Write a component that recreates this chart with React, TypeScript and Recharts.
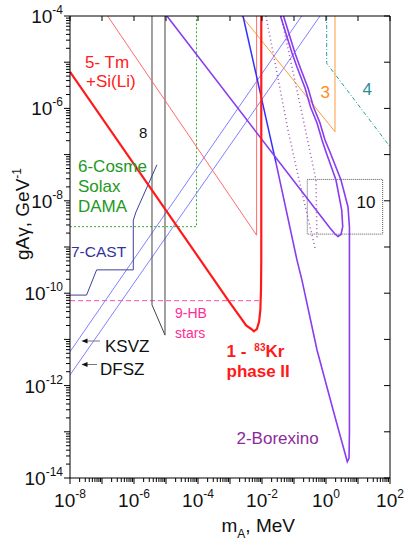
import React from 'react';
import { ComposedChart, Line, XAxis, YAxis } from 'recharts';

type P = { m: number; g: number };

// ---- data (m in MeV, g in GeV^-1) ----
const kr83: P[] = [
  { m: 1e-8, g: 6.2e-6 }, { m: 1e-3, g: 6.2e-11 }, { m: 3.2e-3, g: 2.0e-11 },
  { m: 4.6e-3, g: 1.68e-11 }, { m: 5.6e-3, g: 1.5e-11 }, { m: 6.9e-3, g: 1.68e-11 },
  { m: 8.1e-3, g: 2.4e-11 }, { m: 8.9e-3, g: 4.4e-11 }, { m: 9.3e-3, g: 1.2e-10 },
  { m: 9.5e-3, g: 5e-10 }, { m: 9.5e-3, g: 1e-4 },
];
const tmSiLi: P[] = [{ m: 1.5e-7, g: 1e-4 }, { m: 6.8e-3, g: 1.8e-9 }, { m: 6.8e-3, g: 1e-4 }];
const borexinoBlue: P[] = [{ m: 2.55e-3, g: 1e-4 }, { m: 2.74e-2, g: 6.6e-8 }];
const borexinoOuter: P[] = [
  { m: 2.74e-2, g: 6.6e-8 }, { m: 0.124, g: 5.2e-10 }, { m: 0.178, g: 1.9e-10 },
  { m: 0.524, g: 5.9e-12 }, { m: 1.66, g: 3.0e-13 }, { m: 4.06, g: 3.15e-14 },
  { m: 4.63, g: 2.25e-14 }, { m: 5.25, g: 2.7e-14 }, { m: 5.4, g: 1.0e-13 },
  { m: 5.4, g: 2.7e-9 }, { m: 4.87, g: 7.35e-9 }, { m: 2.94, g: 2.82e-8 },
  { m: 1.33, g: 1.14e-7 }, { m: 0.93, g: 2.07e-7 }, { m: 0.649, g: 4.83e-7 },
  { m: 0.407, g: 1.07e-6 }, { m: 0.274, g: 2.77e-6 }, { m: 0.154, g: 7.87e-6 },
  { m: 0.107, g: 1.58e-5 }, { m: 0.047, g: 1e-4 },
];
const borexinoInner: P[] = [
  { m: 1.07e-5, g: 1e-4 }, { m: 1.33, g: 2.58e-9 }, { m: 1.91, g: 1.91e-9 },
  { m: 2.37, g: 1.69e-9 }, { m: 2.94, g: 1.87e-9 }, { m: 3.33, g: 2.75e-9 },
  { m: 3.1, g: 6.3e-9 }, { m: 2.05, g: 2.82e-8 }, { m: 1.0, g: 1.14e-7 },
  { m: 0.75, g: 2.07e-7 }, { m: 0.524, g: 4.83e-7 }, { m: 0.328, g: 1.07e-6 },
  { m: 0.221, g: 2.77e-6 }, { m: 0.124, g: 7.87e-6 }, { m: 0.0866, g: 1.58e-5 },
  { m: 0.0378, g: 1e-4 },
];
const ksvz: P[] = [{ m: 1e-8, g: 5.4e-12 }, { m: 0.174, g: 1e-4 }];
const dfsz: P[] = [{ m: 1e-8, g: 1.7e-12 }, { m: 0.65, g: 1e-4 }];
const cast: P[] = [
  { m: 1e-8, g: 9.1e-11 }, { m: 3.3e-8, g: 9.1e-11 }, { m: 6.8e-8, g: 3.2e-10 },
  { m: 9.5e-7, g: 3.2e-10 }, { m: 9.5e-7, g: 3.8e-9 }, { m: 1.15e-6, g: 5.7e-9 },
  { m: 5.2e-6, g: 6.0e-8 },
];
const exp8: P[] = [{ m: 3.65e-6, g: 1e-4 }, { m: 3.65e-6, g: 5.6e-11 }, { m: 9.3e-6, g: 1.24e-11 }, { m: 9.3e-6, g: 1e-4 }];
const cosme: P[] = [{ m: 1e-8, g: 2.75e-9 }, { m: 9e-5, g: 2.75e-9 }, { m: 9e-5, g: 1e-4 }];
const hbStars: P[] = [{ m: 1e-8, g: 6.9e-11 }, { m: 9.5e-3, g: 6.9e-11 }];
const exp3: P[] = [{ m: 2.32e-3, g: 1e-4 }, { m: 1.91, g: 3.13e-7 }, { m: 1.91, g: 1e-4 }];
const exp4: P[] = [{ m: 1.05, g: 1e-4 }, { m: 1.05, g: 9.5e-6 }, { m: 100, g: 1.48e-7 }];
const dottedA: P[] = [{ m: 0.0133, g: 1e-4 }, { m: 0.065, g: 3.4e-7 }, { m: 0.133, g: 3.6e-8 }, { m: 0.453, g: 9.5e-10 }];
const dottedB: P[] = [{ m: 0.0393, g: 1e-4 }, { m: 0.229, g: 3.4e-7 }, { m: 0.487, g: 2.8e-8 }, { m: 0.524, g: 1.42e-9 }];
const box10: P[] = [{ m: 0.26, g: 2.9e-8 }, { m: 59, g: 2.9e-8 }, { m: 59, g: 1.9e-9 }, { m: 0.26, g: 1.9e-9 }, { m: 0.26, g: 2.9e-8 }];

const xDecades = [-8, -7, -6, -5, -4, -3, -2, -1, 0, 1, 2];
const yDecades = [-14, -13, -12, -11, -10, -9, -8, -7, -6, -5, -4];

const withMinors = (decs: number[]) => {
  const out: number[] = [];
  decs.forEach((d, i) => {
    for (let k = 1; k <= 9; k++) {
      if (i === decs.length - 1 && k > 1) break;
      out.push(k * Math.pow(10, d));
    }
  });
  return out;
};
const xTicks = withMinors(xDecades);
const yTicks = withMinors(yDecades);
const xMajor = xDecades.map((d) => Math.pow(10, d));
const yMajor = yDecades.map((d) => Math.pow(10, d));

const FONT = "'Liberation Sans', Arial, sans-serif";

const expOf = (v: number) => Math.round(Math.log10(v));
const isMajor = (v: number) => {
  const l = Math.log10(v);
  return Math.abs(l - Math.round(l)) < 1e-6;
};

function LeftTick(props: any) {
  const { x, y, payload } = props;
  const v = payload.value;
  const major = isMajor(v);
  const e = expOf(v);
  return (
    <g>
      <line x1={x - (major ? 6 : 4)} y1={y} x2={x} y2={y} stroke="#000" strokeWidth={1} />
      {major && e % 2 === 0 ? (
        <text x={x - 7} y={y + 7} textAnchor="end" fontFamily={FONT} fontSize={19} fill="#111">
          10<tspan dy={-9} fontSize={12}>{String(e)}</tspan>
        </text>
      ) : null}
    </g>
  );
}

function BottomTick(props: any) {
  const { x, y, payload } = props;
  const v = payload.value;
  const major = isMajor(v);
  const e = expOf(v);
  return (
    <g>
      <line x1={x} y1={y} x2={x} y2={y + (major ? 6 : 4)} stroke="#000" strokeWidth={1} />
      {major && e % 2 === 0 ? (
        <text x={x} y={y + 29} textAnchor="middle" fontFamily={FONT} fontSize={19} fill="#111">
          10<tspan dy={-9} fontSize={12}>{String(e)}</tspan>
        </text>
      ) : null}
    </g>
  );
}

function TopTick(props: any) {
  const { x, y } = props;
  return <line x1={x} y1={y} x2={x} y2={y + 5} stroke="#000" strokeWidth={1} />;
}

function RightTick(props: any) {
  const { x, y } = props;
  return <line x1={x - 6} y1={y} x2={x} y2={y} stroke="#000" strokeWidth={1} />;
}

const series = [
  { id: 'hb', data: hbStars, stroke: '#ff4fa8', w: 1, dash: '5 3' },
  { id: 'cosme', data: cosme, stroke: '#33aa33', w: 1, dash: '2 2' },
  { id: 'box10', data: box10, stroke: '#555', w: 1, dash: '1 1' },
  { id: 'ksvz', data: ksvz, stroke: '#8080ff', w: 1, dash: undefined },
  { id: 'dfsz', data: dfsz, stroke: '#8080ff', w: 1, dash: undefined },
  { id: 'cast', data: cast, stroke: '#40409a', w: 1, dash: undefined },
  { id: 'exp8', data: exp8, stroke: '#444', w: 1, dash: undefined },
  { id: 'exp3', data: exp3, stroke: '#ff9a3c', w: 1, dash: undefined },
  { id: 'exp4', data: exp4, stroke: '#2a9d9d', w: 1, dash: '4 2 1 2' },
  { id: 'dotA', data: dottedA, stroke: '#a056b8', w: 1.5, dash: '1 3' },
  { id: 'dotB', data: dottedB, stroke: '#a056b8', w: 1.5, dash: '1 3' },
  { id: 'tm', data: tmSiLi, stroke: '#ff6a6a', w: 1, dash: undefined },
  { id: 'bxBlue', data: borexinoBlue, stroke: '#3030ff', w: 1.5, dash: undefined },
  { id: 'bxOuter', data: borexinoOuter, stroke: '#8a3cf0', w: 1.6, dash: undefined },
  { id: 'bxInner', data: borexinoInner, stroke: '#8a3cf0', w: 1.6, dash: undefined },
  { id: 'kr', data: kr83, stroke: '#ff1a1a', w: 2.2, dash: undefined },
];

export default function App() {
  return (
    <div style={{ position: 'absolute', left: 0, top: 0, width: 406, height: 540, background: '#fff' }}>
      <ComposedChart width={406} height={540} margin={{ top: 15, right: 15, bottom: 0, left: 0 }}>
        <XAxis
          xAxisId="b" type="number" dataKey="m" scale="log" domain={[1e-8, 1e2]} allowDataOverflow
          ticks={xTicks} interval={0} tick={BottomTick} tickLine={false} tickSize={0} tickMargin={0}
          height={62} axisLine={{ stroke: '#000' }}
        />
        <XAxis
          xAxisId="t" orientation="top" type="number" dataKey="m" scale="log" domain={[1e-8, 1e2]} allowDataOverflow
          ticks={xMajor} interval={0} tick={TopTick} tickLine={false} tickSize={0} tickMargin={0}
          height={1} axisLine={{ stroke: '#000' }}
        />
        <YAxis
          yAxisId="l" type="number" dataKey="g" scale="log" domain={[1e-14, 1e-4]} allowDataOverflow
          ticks={yTicks} interval={0} tick={LeftTick} tickLine={false} tickSize={0} tickMargin={0}
          width={70} axisLine={{ stroke: '#000' }}
        />
        <YAxis
          yAxisId="r" orientation="right" type="number" dataKey="g" scale="log" domain={[1e-14, 1e-4]} allowDataOverflow
          ticks={yMajor} interval={0} tick={RightTick} tickLine={false} tickSize={0} tickMargin={0}
          width={1} axisLine={{ stroke: '#000' }}
        />
        {series.map((s) => (
          <Line
            key={s.id} xAxisId="b" yAxisId="l" data={s.data} dataKey="g" type="linear"
            stroke={s.stroke} strokeWidth={s.w} strokeDasharray={s.dash}
            dot={false} activeDot={false} isAnimationActive={false} legendType="none"
          />
        ))}
      </ComposedChart>
      <svg width={406} height={540} style={{ position: 'absolute', left: 0, top: 0, pointerEvents: 'none' }} fontFamily={FONT}>
        <text x={85} y={68} fontSize={17} fill="#ff2020">5- Tm</text>
        <text x={86} y={87} fontSize={17} fill="#ff2020">+Si(Li)</text>
        <text x={139} y={138} fontSize={15} fill="#111">8</text>
        <text x={78} y={171.5} fontSize={17} fill="#229922">6-Cosme</text>
        <text x={78} y={191.5} fontSize={17} fill="#229922">Solax</text>
        <text x={78} y={211.5} fontSize={17} fill="#229922">DAMA</text>
        <text x={71} y={257} fontSize={15.5} fill="#33339a">7-CAST</text>
        <text x={175} y={318} fontSize={14} fill="#ff2d95">9-HB</text>
        <text x={175} y={338} fontSize={14} fill="#ff2d95">stars</text>
        <text x={105} y={351.5} fontSize={17} fill="#111">KSVZ</text>
        <text x={100} y={375} fontSize={17} fill="#111">DFSZ</text>
        <line x1={100} y1={341} x2={86} y2={341} stroke="#777" strokeWidth={1} />
        <polygon points="81.5,341 87.5,338.5 87.5,343.5" fill="#111" />
        <line x1={97} y1={364.5} x2={86} y2={364.5} stroke="#777" strokeWidth={1} />
        <polygon points="81.5,364.5 87.5,362 87.5,367" fill="#111" />
        <text x={226.5} y={357} fontSize={17} fontWeight="bold" fill="#ff1a1a">
          1 -<tspan dx={8} dy={-6} fontSize={10}>83</tspan><tspan dy={6}>Kr</tspan>
        </text>
        <text x={226.5} y={377} fontSize={17} fontWeight="bold" fill="#ff1a1a">phase II</text>
        <text x={236.5} y={444} fontSize={17} fill="#8a2b9a">2-Borexino</text>
        <text x={320.5} y={98} fontSize={17} fill="#ff8c1a">3</text>
        <text x={362.5} y={95} fontSize={17} fill="#2a9090">4</text>
        <text x={356.5} y={207.5} fontSize={17} fill="#111">10</text>
        <text x={221.5} y={531.5} fontSize={19} fill="#111">
          m<tspan dy={6} fontSize={12}>A</tspan><tspan dy={-6}>, MeV</tspan>
        </text>
        <text x={28.5} y={260} fontSize={19} fill="#111" transform="rotate(-90 28.5 260)">
          gAγ, GeV<tspan dy={-8} fontSize={12}>-1</tspan>
        </text>
      </svg>
    </div>
  );
}
